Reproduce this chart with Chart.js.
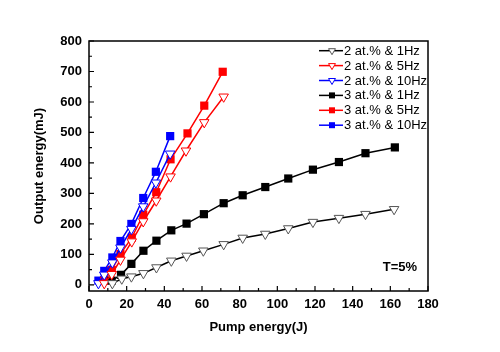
<!DOCTYPE html>
<html><head><meta charset="utf-8">
<script src="https://cdn.jsdelivr.net/npm/chart.js@4.4.0/dist/chart.umd.min.js"></script>
<style>html,body{margin:0;padding:0;background:#fff}</style>
</head><body>
<canvas id="c" width="500" height="352"></canvas>
<script>
const seriesNames = ["2 at.% & 1Hz","2 at.% & 5Hz","2 at.% & 10Hz","3 at.% & 1Hz","3 at.% & 5Hz","3 at.% & 10Hz"];
const seriesColors = ["#000000","#ff0000","#0000ff","#000000","#ff0000","#0000ff"];
const x2_1 = [12.4,17.4,22.5,28.9,35.8,43.7,51.8,60.7,71.5,81.6,93.6,105.8,118.9,132.7,146.8,162];
const y2_1 = [5,20,27,38,57,79,95,112,133,154,167,185,206,219,232,248];
const x2_5 = [8.1,12.1,16.7,22.7,28.8,35.7,43.3,51.5,61.2,71.5];
const y2_5 = [5,35,82,142,208,276,355,440,533,617];
const x2_10 = [5,8.1,12.4,16.7,22.5,28.8,35.5,43.1];
const y2_10 = [5,33,73,122,183,257,335,430];
const x3_1 = [12,17,22.5,28.9,35.8,43.7,51.8,61,71.5,81.6,93.6,105.8,118.9,132.7,146.8,162.4];
const y3_1 = [14,33,69,112,145,179,201,232,268,294,321,349,378,403,432,451];
const x3_5 = [8.1,12.1,16.7,22.7,28.8,35.7,43.3,52.3,61.2,71];
const y3_5 = [14,49,101,155,230,304,412,497,588,699];
const x3_10 = [5,8.1,12.4,16.7,22.5,28.8,35.5,43.1];
const y3_10 = [14,46,90,144,200,285,371,488];
const xTickLabels = [0,20,40,60,80,100,120,140,160,180];
const yTickLabels = [0,100,200,300,400,500,600,700,800];
const annotationText = "T=5%";

const xs = [x2_1,x2_5,x2_10,x3_1,x3_5,x3_10];
const ys = [y2_1,y2_5,y2_10,y3_1,y3_5,y3_10];
const FONT = "'Liberation Sans', Arial, sans-serif";

const datasets = seriesNames.map((n,i)=>{
  const tri = i<3;
  return {
    label:n,
    data: xs[i].map((x,k)=>({x:x,y:ys[i][k]})),
    borderColor: seriesColors[i],
    borderWidth:1.5,
    pointStyle: tri ? 'triangle' : 'rect',
    pointRotation: tri ? 180 : 0,
    pointRadius: tri ? 5.5 : 5.8,
    pointBackgroundColor: tri ? '#ffffff' : seriesColors[i],
    pointBorderColor: tri ? (i===0 ? '#555555' : seriesColors[i]) : seriesColors[i],
    pointBorderWidth: tri ? 1 : 0,
    tension:0,
    fill:false
  };
});

const framePlugin = {
  id:'frame',
  afterDraw(chart){
    const {ctx, chartArea:a, scales:{x,y}} = chart;
    ctx.save();
    ctx.strokeStyle='#000';
    ctx.lineWidth=1.5;
    ctx.strokeRect(a.left,a.top,a.right-a.left,a.bottom-a.top);
    ctx.lineWidth=1.2;
    ctx.beginPath();
    for(let v=xTickLabels[0]; v<=xTickLabels[xTickLabels.length-1]; v+=10){
      const px=x.getPixelForValue(v); const len = (v%20===0)?5:3;
      ctx.moveTo(px,a.bottom); ctx.lineTo(px,a.bottom-len);
    }
    for(let v=yTickLabels[0]; v<=yTickLabels[yTickLabels.length-1]; v+=50){
      const py=y.getPixelForValue(v); const len = (v%100===0)?5:3;
      ctx.moveTo(a.left,py); ctx.lineTo(a.left+len,py);
    }
    ctx.stroke();
    // legend
    ctx.font = "13px "+FONT;
    ctx.textBaseline='middle'; ctx.textAlign='left';
    seriesNames.forEach((n,i)=>{
      const yy = 50.7 + i*14.9;
      ctx.strokeStyle = seriesColors[i]; ctx.lineWidth=1.5;
      ctx.beginPath(); ctx.moveTo(319,yy); ctx.lineTo(343,yy); ctx.stroke();
      const cx=332;
      if(i<3){
        const r=4;
        ctx.beginPath();
        ctx.moveTo(cx-r*0.866,yy-r*0.5); ctx.lineTo(cx+r*0.866,yy-r*0.5); ctx.lineTo(cx,yy+r); ctx.closePath();
        ctx.fillStyle='#fff'; ctx.fill();
        ctx.lineWidth=1; ctx.strokeStyle= i===0?'#555':seriesColors[i]; ctx.stroke();
      } else {
        ctx.fillStyle=seriesColors[i]; ctx.fillRect(cx-3,yy-3,6,6);
      }
      ctx.fillStyle='#000';
      ctx.fillText(n,344,yy+0.5);
    });
    ctx.font = "bold 13px "+FONT;
    ctx.textAlign='center';
    ctx.fillText(annotationText,400,267.5);
    ctx.restore();
  }
};

new Chart(document.getElementById('c'),{
  type:'line',
  data:{datasets:datasets},
  options:{
    responsive:false,
    animation:false,
    devicePixelRatio:1,
    layout:{padding:{left:0,right:72,top:41,bottom:0}},
    plugins:{legend:{display:false},tooltip:{enabled:false}},
    scales:{
      x:{
        type:'linear', min:0, max:180,
        grid:{display:false, drawTicks:false}, border:{display:false},
        afterBuildTicks(s){ s.ticks = xTickLabels.map(v=>({value:v})); },
        afterFit(s){ s.height = 61; },
        ticks:{padding:6, color:'#000', font:{family:FONT,size:13,weight:'bold'}, maxRotation:0, autoSkip:false},
        title:{display:true,text:'Pump energy(J)',color:'#000',font:{family:FONT,size:13,weight:'bold'},padding:{top:0,bottom:17}}
      },
      y:{
        type:'linear', min:-20, max:800,
        grid:{display:false, drawTicks:false}, border:{display:false},
        afterBuildTicks(s){ s.ticks = yTickLabels.map(v=>({value:v})); },
        afterFit(s){ s.width = 89; },
        ticks:{padding:7, color:'#000', font:{family:FONT,size:13,weight:'bold'}, autoSkip:false},
        title:{display:true,text:'Output energy(mJ)',color:'#000',font:{family:FONT,size:13,weight:'bold'},padding:{top:32,bottom:0}}
      }
    }
  },
  plugins:[framePlugin]
});
</script>
</body></html>
